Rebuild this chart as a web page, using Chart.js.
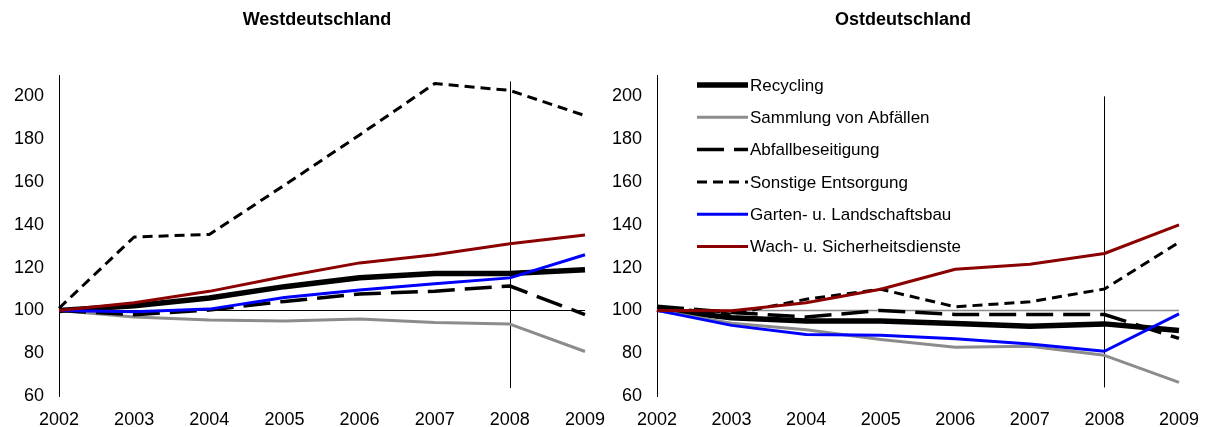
<!DOCTYPE html>
<html>
<head>
<meta charset="utf-8">
<script src="https://cdn.jsdelivr.net/npm/chart.js@4/dist/chart.umd.min.js"></script>
<style>
  html, body { margin: 0; padding: 0; background: #fff; }
  #wrap { position: relative; width: 1214px; height: 427px; overflow: hidden; }
  canvas { position: absolute; left: 0; top: 0; }
</style>
</head>
<body>
<div id="wrap">
  <canvas id="west" width="1214" height="427"></canvas>
  <canvas id="east" width="1214" height="427"></canvas>
</div>
<script>
// ---- data ----
const years = ['2002', '2003', '2004', '2005', '2006', '2007', '2008', '2009'];
const seriesNames = ['Recycling', 'Sammlung von Abfällen', 'Abfallbeseitigung', 'Sonstige Entsorgung', 'Garten- u. Landschaftsbau', 'Wach- u. Sicherheitsdienste'];
const panelTitles = ['Westdeutschland', 'Ostdeutschland'];
const yTicksMin = 60;
const yTicksMax = 210;
const yTickStep = 20;

const westRecycling = [100, 102.2, 105.8, 111.1, 115.3, 117.2, 117.2, 119];
const westSammlung  = [100, 96.9, 95.5, 95, 96, 94.4, 93.6, 80.8];
const westAbfall    = [100, 98, 100.2, 104.2, 107.7, 109, 111.4, 98];
const westSonstige  = [101, 134.3, 135.5, 158.5, 182, 206, 202.8, 191];
const westGarten    = [100, 99.4, 100.6, 106, 109.5, 112.4, 115.2, 126];
const westWach      = [100, 103.6, 108.9, 115.8, 122.2, 126, 131.1, 135.2];

const eastRecycling = [100.5, 96.6, 95, 95, 93.9, 92.6, 93.7, 90.6];
const eastSammlung  = [100, 94, 91, 86.4, 82.8, 83.3, 79, 66.4];
const eastAbfall    = [102, 99, 96.9, 100, 98.1, 98.1, 98.1, 86.9];
const eastSonstige  = [101.6, 98.3, 105.2, 109.9, 101.7, 104, 110, 131.8];
const eastGarten    = [100, 93, 88.7, 88.4, 86.7, 84.3, 80.9, 98.4];
const eastWach      = [100, 99.8, 103.6, 109.9, 119.2, 121.6, 126.6, 140];

const baseLine = 100;          // horizontal reference line value
const markerYear = '2008';     // vertical marker line category
const westMarkerRange = [63.7, 207];
const eastMarkerRange = [64, 200];

// ---- styles ----
const FONT = '"Liberation Sans", Arial, sans-serif';
const styles = [
  { color: '#000000', width: 5.5, dash: [] },
  { color: '#8c8c8c', width: 3, dash: [] },
  { color: '#000000', width: 3.5, dash: [27, 10] },
  { color: '#000000', width: 3, dash: [10, 6] },
  { color: '#0000ff', width: 3, dash: [] },
  { color: '#8b0000', width: 3, dash: [] }
];

function makeDatasets(arrs) {
  return arrs.map((d, i) => ({
    label: seriesNames[i],
    data: d,
    borderColor: styles[i].color,
    backgroundColor: styles[i].color,
    borderWidth: styles[i].width,
    borderDash: styles[i].dash,
    borderJoinStyle: 'round',
    borderCapStyle: 'butt',
    pointRadius: 0,
    pointHoverRadius: 0,
    tension: 0,
    fill: false,
    order: arrs.length - i
  }));
}

const refLines = {
  id: 'refLines',
  beforeDatasetsDraw(chart, args, opts) {
    const ctx = chart.ctx, xs = chart.scales.x, ys = chart.scales.y;
    ctx.save();
    const yb = Math.round(ys.getPixelForValue(baseLine)) + 0.5;
    ctx.strokeStyle = opts.hColor;
    ctx.lineWidth = opts.hWidth;
    ctx.beginPath();
    ctx.moveTo(xs.getPixelForValue(0), yb);
    ctx.lineTo(xs.getPixelForValue(years.length - 1), yb);
    ctx.stroke();
    const xv = Math.round(xs.getPixelForValue(years.indexOf(markerYear))) + 0.5;
    ctx.strokeStyle = '#000';
    ctx.lineWidth = 1;
    ctx.beginPath();
    ctx.moveTo(xv, ys.getPixelForValue(opts.range[1]));
    ctx.lineTo(xv, ys.getPixelForValue(opts.range[0]));
    ctx.stroke();
    ctx.restore();
  }
};

const panelTitle = {
  id: 'panelTitle',
  afterDraw(chart, args, opts) {
    const ctx = chart.ctx;
    ctx.save();
    ctx.font = 'bold 18px ' + FONT;
    ctx.fillStyle = '#000';
    ctx.textAlign = 'center';
    ctx.textBaseline = 'middle';
    ctx.fillText(opts.text, opts.x, opts.y);
    ctx.restore();
  }
};

const innerLegend = {
  id: 'innerLegend',
  afterDraw(chart, args, opts) {
    if (!opts.show) return;
    const ctx = chart.ctx;
    ctx.save();
    chart.data.datasets.forEach((ds, i) => {
      const y = opts.y0 + i * opts.dy;
      ctx.strokeStyle = ds.borderColor;
      ctx.lineWidth = ds.borderWidth;
      ctx.setLineDash(ds.borderDash || []);
      ctx.beginPath();
      ctx.moveTo(opts.x0, y);
      ctx.lineTo(opts.x1, y);
      ctx.stroke();
      ctx.setLineDash([]);
      ctx.fillStyle = '#000';
      ctx.font = '17px ' + FONT;
      ctx.textAlign = 'left';
      ctx.textBaseline = 'middle';
      ctx.fillText(ds.label, opts.x1 + 2, y + 1);
    });
    ctx.restore();
  }
};

function makeChart(id, arrs, pad, titleText, titleX, hColor, hWidth, range, legendShow) {
  return new Chart(document.getElementById(id), {
    type: 'line',
    data: { labels: years, datasets: makeDatasets(arrs) },
    plugins: [refLines, panelTitle, innerLegend],
    options: {
      responsive: false,
      animation: false,
      events: [],
      layout: { padding: pad },
      plugins: {
        legend: { display: false },
        tooltip: { enabled: false },
        title: { display: false },
        refLines: { hColor: hColor, hWidth: hWidth, range: range },
        panelTitle: { text: titleText, x: titleX, y: 20 },
        innerLegend: { show: legendShow, x0: 697, x1: 748, y0: 85, dy: 32.3 }
      },
      scales: {
        x: {
          type: 'category',
          offset: false,
          grid: { display: false, drawTicks: false },
          border: { display: false },
          ticks: { color: '#000', font: { family: FONT, size: 18, lineHeight: 1 }, padding: 15, maxRotation: 0, autoSkip: false },
          afterFit(s) { s.height = 31; }
        },
        y: {
          min: yTicksMin,
          max: yTicksMax,
          grid: { display: false, drawTicks: false },
          border: { display: true, color: '#000', width: 1 },
          ticks: { color: '#000', stepSize: yTickStep, includeBounds: false, font: { family: FONT, size: 18, lineHeight: 1 }, padding: 15 },
          afterFit(s) { s.width = 59; }
        }
      }
    }
  });
}

makeChart('west',
  [westRecycling, westSammlung, westAbfall, westSonstige, westGarten, westWach],
  { left: 0, right: 1214 - 585, top: 75, bottom: 0 },
  panelTitles[0], 317, '#000000', 1, westMarkerRange, false);

makeChart('east',
  [eastRecycling, eastSammlung, eastAbfall, eastSonstige, eastGarten, eastWach],
  { left: 657 - 59, right: 1214 - 1183, top: 75, bottom: 0 },
  panelTitles[1], 903, '#8c8c8c', 1.5, eastMarkerRange, true);
</script>
</body>
</html>
